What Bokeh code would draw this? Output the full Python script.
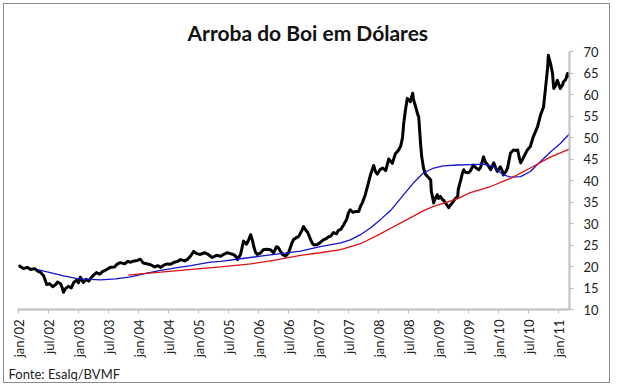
import math
from bokeh.plotting import figure
from bokeh.models import Range1d, LinearAxis, FixedTicker, Title
from bokeh.embed import file_html
from bokeh.resources import INLINE

# ---- data (dates in decimal years, values in US$ per arroba) ----
boi_t = [2002.00, 2002.02, 2002.08, 2002.15, 2002.20, 2002.27, 2002.32, 2002.37, 2002.42, 2002.47,
         2002.52, 2002.57, 2002.62, 2002.65, 2002.70, 2002.73, 2002.75, 2002.78, 2002.83, 2002.88,
         2002.92, 2002.97, 2003.00, 2003.03, 2003.08, 2003.13, 2003.17, 2003.20, 2003.25, 2003.30,
         2003.35, 2003.40, 2003.47, 2003.53, 2003.60, 2003.65, 2003.70, 2003.77, 2003.82, 2003.87,
         2003.93, 2003.98, 2004.03, 2004.08, 2004.15, 2004.20, 2004.27, 2004.32, 2004.37, 2004.42,
         2004.48, 2004.53, 2004.60, 2004.65, 2004.70, 2004.77, 2004.82, 2004.87, 2004.92, 2004.97,
         2005.03, 2005.10, 2005.15, 2005.20, 2005.23, 2005.30, 2005.37, 2005.43, 2005.48, 2005.53,
         2005.58, 2005.62, 2005.65, 2005.70, 2005.75, 2005.80, 2005.83, 2005.87, 2005.90, 2005.92,
         2005.95, 2005.98, 2006.03, 2006.08, 2006.13, 2006.20, 2006.25, 2006.30, 2006.33, 2006.37,
         2006.40, 2006.45, 2006.50, 2006.55, 2006.58, 2006.63, 2006.67, 2006.72, 2006.75, 2006.78,
         2006.82, 2006.87, 2006.90, 2006.93, 2006.98, 2007.03, 2007.08, 2007.13, 2007.17, 2007.20,
         2007.25, 2007.30, 2007.33, 2007.37, 2007.42, 2007.47, 2007.50, 2007.53, 2007.57, 2007.62,
         2007.67, 2007.70, 2007.73, 2007.78, 2007.83, 2007.87, 2007.92, 2007.95, 2007.98, 2008.03,
         2008.07, 2008.12, 2008.17, 2008.20, 2008.23, 2008.28, 2008.33, 2008.37, 2008.40, 2008.42,
         2008.45, 2008.48, 2008.52, 2008.53, 2008.57, 2008.58, 2008.62, 2008.65, 2008.67, 2008.70,
         2008.72, 2008.75, 2008.78, 2008.82, 2008.87, 2008.88, 2008.92, 2008.95, 2008.98, 2009.00,
         2009.03, 2009.07, 2009.08, 2009.13, 2009.17, 2009.20, 2009.23, 2009.28, 2009.32, 2009.33,
         2009.37, 2009.40, 2009.42, 2009.45, 2009.50, 2009.53, 2009.58, 2009.62, 2009.67, 2009.70,
         2009.75, 2009.78, 2009.82, 2009.87, 2009.92, 2009.95, 2009.98, 2010.03, 2010.07, 2010.08,
         2010.12, 2010.15, 2010.20, 2010.25, 2010.28, 2010.32, 2010.35, 2010.37, 2010.42, 2010.45,
         2010.48, 2010.53, 2010.58, 2010.62, 2010.65, 2010.70, 2010.75, 2010.78, 2010.82, 2010.83,
         2010.87, 2010.90, 2010.92, 2010.95, 2010.98, 2011.02, 2011.03, 2011.07, 2011.08, 2011.12,
         2011.15, 2011.18]
boi_v = [20.0, 20.1, 19.5, 19.8, 19.3, 19.5, 18.9, 18.6, 17.8, 15.8,
         16.0, 15.3, 15.8, 16.4, 16.0, 15.0, 14.0, 14.8, 15.4, 15.0,
         16.3, 16.8, 16.2, 17.5, 16.3, 17.0, 16.6, 17.2, 18.0, 18.6,
         18.2, 18.8, 19.3, 19.8, 19.9, 20.6, 20.9, 20.6, 21.2, 21.0,
         21.3, 21.4, 21.7, 20.8, 20.6, 20.4, 19.9, 20.2, 19.8, 20.3,
         20.6, 20.5, 21.0, 21.2, 21.6, 21.3, 21.7, 22.5, 23.5, 23.0,
         22.8, 23.2, 22.9, 22.4, 22.1, 22.6, 22.4, 22.9, 23.2, 23.0,
         22.8, 22.4, 21.6, 22.8, 25.9, 25.2, 26.0, 27.4, 26.0, 24.7,
         23.3, 22.8, 23.1, 23.9, 24.0, 23.9, 23.2, 24.6, 24.4, 23.4,
         22.8, 22.4, 23.2, 25.2, 26.2, 26.7, 27.0, 28.3, 29.3, 28.6,
         27.9, 26.2, 25.3, 25.0, 25.1, 25.6, 26.2, 26.5, 26.9, 27.0,
         27.9, 27.6, 28.4, 28.6, 29.7, 31.0, 32.5, 33.2, 32.6, 32.8,
         32.8, 34.0, 34.8, 36.7, 39.4, 41.5, 43.5, 42.0, 41.5, 42.6,
         42.9, 42.3, 45.0, 44.5, 44.0, 46.2, 47.0, 48.0, 50.0, 53.3,
         56.5, 59.1, 58.6, 58.3, 60.3, 59.0, 57.1, 55.5, 54.8, 48.7,
         45.5, 42.9, 41.5, 40.9, 40.1, 37.5, 34.8, 36.0, 36.7, 35.8,
         36.3, 35.5, 35.5, 34.5, 33.7, 34.3, 34.8, 35.8, 36.3, 38.0,
         40.1, 41.8, 42.5, 41.9, 41.8, 42.2, 43.6, 43.0, 42.5, 43.0,
         45.5, 44.3, 43.6, 42.5, 44.1, 43.0, 42.1, 43.2, 42.0, 41.3,
         42.0, 42.9, 46.4, 47.1, 47.0, 47.1, 45.0, 44.1, 45.5, 46.3,
         47.1, 47.9, 50.2, 51.5, 52.5, 55.2, 57.1, 61.0, 66.5, 69.1,
         67.0, 64.9, 61.4, 62.0, 63.3, 61.8, 61.4, 62.3, 62.9, 63.5,
         64.9, 64.0]

blue_t = [2002.32, 2002.53, 2002.75, 2002.98, 2003.20, 2003.37, 2003.62, 2003.87, 2004.12, 2004.37,
          2004.62, 2004.87, 2005.20, 2005.37, 2005.70, 2006.03, 2006.37, 2006.70, 2007.03, 2007.37,
          2007.53, 2007.70, 2007.87, 2008.03, 2008.20, 2008.42, 2008.58, 2008.75, 2008.92, 2009.08,
          2009.32, 2009.53, 2009.75, 2009.92, 2010.08, 2010.20, 2010.37, 2010.53, 2010.70, 2010.87,
          2011.03, 2011.18]
blue_v = [19.3, 18.6, 17.8, 17.2, 17.0, 16.9, 17.1, 17.6, 18.4, 19.1,
          19.7, 20.2, 21.0, 21.2, 21.8, 22.4, 23.0, 23.6, 24.6, 25.5,
          26.2, 27.4, 29.0, 30.9, 33.0, 36.7, 39.4, 41.8, 42.9, 43.4,
          43.6, 43.7, 43.8, 43.2, 41.3, 40.8, 40.9, 42.1, 44.4, 46.7,
          48.6, 50.8]

red_t = [2003.83, 2004.03, 2004.37, 2004.70, 2005.03, 2005.37, 2005.87, 2006.25, 2006.70, 2007.03,
         2007.37, 2007.70, 2008.03, 2008.20, 2008.53, 2008.75, 2008.92, 2009.08, 2009.32, 2009.53,
         2009.87, 2010.20, 2010.53, 2010.87, 2011.18]
red_v = [18.0, 18.3, 18.7, 19.1, 19.5, 19.9, 20.6, 21.4, 22.6, 23.2,
         23.9, 25.3, 27.6, 28.9, 31.3, 33.0, 34.0, 34.7, 35.8, 37.2,
         38.6, 40.5, 42.9, 45.5, 47.3]

tick_pos = [2002 + 0.5 * i for i in range(19)]
tick_labels = ["jan/02", "jul/02", "jan/03", "jul/03", "jan/04", "jul/04", "jan/05", "jul/05",
               "jan/06", "jul/06", "jan/07", "jul/07", "jan/08", "jul/08", "jan/09", "jul/09",
               "jan/10", "jul/10", "jan/11"]
y_ticks = list(range(10, 75, 5))

title_text = "Arroba do Boi em Dólares"
source_text = "Fonte: Esalq/BVMF"

FONT = "Lato"

p = figure(width=607, height=380, output_backend="svg", toolbar_location=None,
           x_range=Range1d(2001.983, 2011.183), y_range=Range1d(10, 70),
           min_border_left=13, min_border_right=42, min_border_top=47, min_border_bottom=75,
           y_axis_location=None, title=None)
p.styles = {"border": "1px solid #8c8c8c", "margin-left": "3px", "margin-top": "3px"}
p.outline_line_color = None
p.xgrid.visible = False
p.ygrid.visible = False
p.background_fill_color = "white"
p.border_fill_color = "white"

# x axis
xa = p.xaxis[0]
xa.ticker = FixedTicker(ticks=tick_pos)
xa.major_label_overrides = {t: l for t, l in zip(tick_pos, tick_labels)}
xa.major_label_orientation = math.pi / 2
xa.axis_line_color = "#bdbdbd"
xa.axis_line_width = 2
xa.major_tick_line_color = "#bdbdbd"
xa.major_tick_in = 0
xa.major_tick_out = 4
xa.minor_tick_line_color = None
xa.major_label_text_font = FONT
xa.major_label_text_font_size = "13px"
xa.major_label_text_color = "#222222"
xa.major_label_standoff = 6

# right y axis
ya = LinearAxis(ticker=FixedTicker(ticks=y_ticks))
ya.axis_line_color = "#bdbdbd"
ya.axis_line_width = 2
ya.major_tick_line_color = "#bdbdbd"
ya.major_tick_in = 0
ya.major_tick_out = 4
ya.minor_tick_line_color = None
ya.major_label_text_font = FONT
ya.major_label_text_font_size = "13px"
ya.major_label_text_color = "#222222"
ya.major_label_standoff = 10
p.add_layout(ya, "right")

p.line(boi_t, boi_v, line_color="black", line_width=3, line_join="round")
p.line(blue_t, blue_v, line_color="#1414d2", line_width=1.3)
p.line(red_t, red_v, line_color="#e01010", line_width=1.3)

p.add_layout(Title(text=title_text, align="left", offset=170, standoff=14,
                   text_font=FONT, text_font_size="21px", text_font_style="bold",
                   text_color="#111111"), "above")
p.add_layout(Title(text=source_text, align="left", offset=-9, standoff=6,
                   text_font=FONT, text_font_size="13px", text_font_style="normal",
                   text_color="#222222"), "below")

open("out.html", "w").write(file_html(p, INLINE))
